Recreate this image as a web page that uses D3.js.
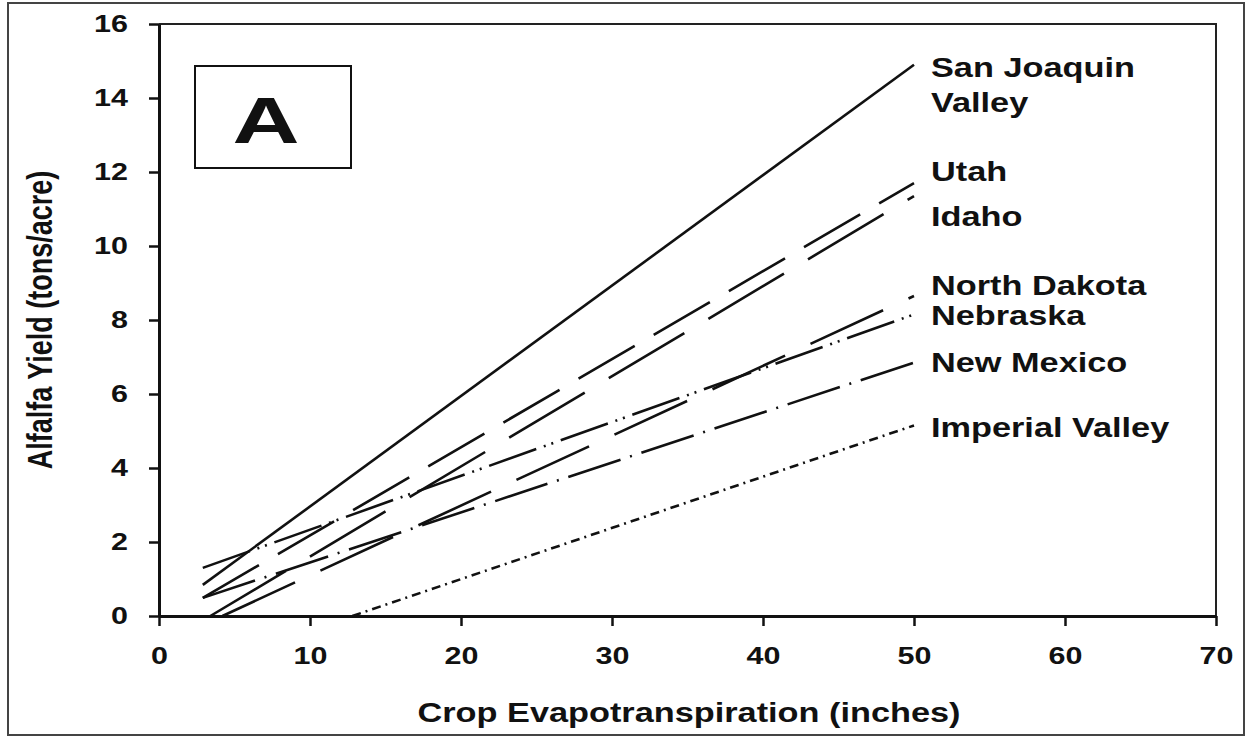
<!DOCTYPE html>
<html>
<head>
<meta charset="utf-8">
<script src="https://cdn.jsdelivr.net/npm/d3@7"></script>
<style>
  body { margin: 0; background: #fff; }
  svg text { font-family: "Liberation Sans", Arial, sans-serif; font-weight: bold; fill: #111; }
</style>
</head>
<body>
<svg id="chart"></svg>
<script>
// Regions and fitted yield lines (start / end points)
let regions = ['San Joaquin Valley', 'Utah', 'Idaho', 'North Dakota', 'Nebraska', 'New Mexico', 'Imperial Valley']
let startEt = [2.9, 2.9, 3.4, 4.2, 2.9, 2.9, 12.8]
let startYield = [0.84, 0.49, 0, 0, 1.3, 0.49, 0]
let endEt = [50, 50, 50, 50, 50, 50, 50]
let endYield = [14.9, 11.7, 11.35, 8.65, 8.15, 6.85, 5.15]

// label text and the yield level its first line sits at
let labelLines = [['San Joaquin', 'Valley'], ['Utah'], ['Idaho'], ['North Dakota'], ['Nebraska'], ['New Mexico'], ['Imperial Valley']]
let labelYield = [14.57, 11.76, 10.54, 8.68, 7.86, 6.59, 4.84]

let xTicks = [0, 10, 20, 30, 40, 50, 60, 70]
let yTicks = [0, 2, 4, 6, 8, 10, 12, 14, 16]

// line styles per region
let dashes = ['none', '65,22', '88,28', '80,28', '50,8,2,6,2,8', '55,10,2,10', '9,5,2,5']

let W = 1248, H = 738
let margin = { left: 159, right: 32, top: 24, bottom: 122 }
let w = W - margin.left - margin.right
let h = H - margin.top - margin.bottom
let sx = 1.27 // the figure is stretched sideways, so is its text

let svg = d3.select('#chart')
  .attr('width', W)
  .attr('height', H)

// outer frame
svg.append('rect')
  .attr('x', 8).attr('y', 3)
  .attr('width', 1236).attr('height', 732)
  .attr('fill', 'none')
  .attr('stroke', '#444')
  .attr('stroke-width', 2)

let x = d3.scaleLinear().domain([0, 70]).range([margin.left, margin.left + w])
let y = d3.scaleLinear().domain([0, 16]).range([margin.top + h, margin.top])

// top / right border of the plot
svg.append('path')
  .attr('d', `M${x(0)},${y(16)}H${x(70)}V${y(0)}`)
  .attr('fill', 'none')
  .attr('stroke', '#222')
  .attr('stroke-width', 2)

// Axes
let xAxis = svg.append('g')
  .attr('transform', `translate(0,${y(0)})`)
  .call(d3.axisBottom(x).tickValues(xTicks).tickSize(10).tickSizeOuter(0).tickPadding(21))
xAxis.selectAll('text')
  .attr('font-size', 24)
  .attr('transform', `scale(${sx},1)`)

let yAxis = svg.append('g')
  .attr('transform', `translate(${x(0)},0)`)
  .call(d3.axisLeft(y).tickValues(yTicks).tickSize(10).tickSizeOuter(0))
yAxis.selectAll('text')
  .attr('font-size', 24)
  .attr('x', 0)
  .attr('transform', `translate(-31,0) scale(${sx},1)`)

svg.selectAll('.domain').attr('stroke', '#111').attr('stroke-width', 3)
svg.selectAll('.tick line').attr('stroke', '#111').attr('stroke-width', 2.5)

// Fitted lines
let line = d3.line().x(d => x(d[0])).y(d => y(d[1]))
svg.append('g')
  .selectAll('path')
  .data(regions)
  .enter()
  .append('path')
  .attr('d', (d, i) => line([[startEt[i], startYield[i]], [endEt[i], endYield[i]]]))
  .attr('fill', 'none')
  .attr('stroke', '#111')
  .attr('stroke-width', 2.6)
  .attr('stroke-dasharray', (d, i) => dashes[i])

// Region labels
let labels = svg.append('g')
regions.forEach((r, i) => {
  labelLines[i].forEach((t, j) => {
    labels.append('text')
      .text(t)
      .attr('font-size', 27)
      .attr('transform', `translate(931,${y(labelYield[i]) + j * 35}) scale(${sx},1)`)
  })
})

// Panel tag
svg.append('rect')
  .attr('x', 195).attr('y', 66)
  .attr('width', 156).attr('height', 102)
  .attr('fill', 'none')
  .attr('stroke', '#111')
  .attr('stroke-width', 2)
svg.append('text')
  .text('A')
  .attr('font-size', 64)
  .attr('text-anchor', 'middle')
  .attr('transform', `translate(266,143) scale(1.45,1)`)

// Axis titles
svg.append('text')
  .text('Crop Evapotranspiration (inches)')
  .attr('font-size', 27)
  .attr('text-anchor', 'middle')
  .attr('transform', `translate(689,722) scale(${sx},1)`)

svg.append('text')
  .text('Alfalfa Yield (tons/acre)')
  .attr('font-size', 27)
  .attr('text-anchor', 'middle')
  .attr('transform', `translate(52,320) scale(${sx},1) rotate(-90)`)
</script>
</body>
</html>
